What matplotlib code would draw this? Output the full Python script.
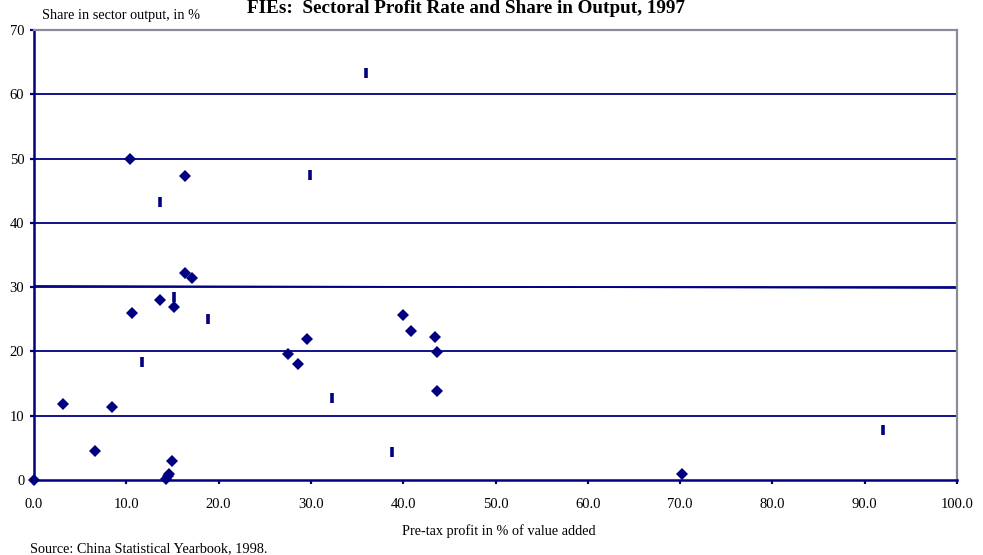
import numpy as np
import matplotlib
matplotlib.use("Agg")
import matplotlib.pyplot as plt
from matplotlib.ticker import FormatStrFormatter

plt.rcParams['font.family'] = ['Liberation Serif', 'DejaVu Serif']

NAVY = '#000080'

# sectors shown as diamonds: profit rate (%) vs share in output (%)
profit_a = [0.0, 3.1, 6.6, 8.5, 10.4, 10.6, 13.65, 14.3, 14.5, 14.65, 14.95,
            15.2, 16.4, 16.4, 17.15, 27.55, 28.6, 29.6, 40.0, 40.8, 43.45,
            43.65, 43.7, 70.2]
share_a = [0.0, 11.9, 4.5, 11.35, 50.0, 26.05, 27.95, 0.1, 0.6, 1.0, 3.0,
           26.9, 47.3, 32.2, 31.4, 19.6, 18.1, 21.9, 25.7, 23.2, 22.3,
           19.85, 13.9, 0.9]

# sectors shown as dashes
profit_b = [11.75, 13.7, 15.2, 18.9, 29.95, 32.3, 36.0, 38.8, 91.95]
share_b = [18.4, 43.3, 28.4, 25.0, 47.4, 12.8, 63.25, 4.4, 7.8]

# linear trend across all sectors
trend_intercept = 30.2
trend_slope = -0.0035

x_ticks = np.arange(0, 101, 10)
y_ticks = np.arange(0, 71, 10)

fig = plt.figure(figsize=(9.83, 5.55), dpi=100)
ax = fig.add_axes([34 / 983, 75 / 555, 923 / 983, 450 / 555])

for y in y_ticks[1:-1]:
    ax.axhline(y, color=NAVY, lw=1.3, zorder=1)

tx = np.array([0, 100])
ax.plot(tx, trend_intercept + trend_slope * tx, color=NAVY, lw=1.1, zorder=2)

ax.plot(profit_a, share_a, 'D', color=NAVY, ms=5.8, mew=0, zorder=3,
        clip_on=False)
ax.plot(profit_b, share_b, '|', color=NAVY, ms=7.5, mew=2.6, zorder=3,
        clip_on=False)

ax.set_xlim(0, 100)
ax.set_ylim(0, 70)
ax.set_xticks(x_ticks)
ax.set_yticks(y_ticks)
ax.xaxis.set_major_formatter(FormatStrFormatter('%.1f'))

for side in ('left', 'bottom'):
    ax.spines[side].set_color(NAVY)
    ax.spines[side].set_linewidth(1.8)
for side in ('top', 'right'):
    ax.spines[side].set_color('#8a8a9a')
    ax.spines[side].set_linewidth(1.6)

ax.tick_params(axis='both', colors=NAVY, width=1.6, length=3,
               labelcolor='black', labelsize=10.5)
ax.tick_params(axis='x', pad=10)
ax.tick_params(axis='y', pad=4)

fig.text(466 / 983, 1 - 13 / 555, 'FIEs:  Sectoral Profit Rate and Share in Output, 1997',
         ha='center', va='baseline', fontsize=13.8, fontweight='bold')
fig.text(42 / 983, 1 - 19 / 555, 'Share in sector output, in %',
         ha='left', va='baseline', fontsize=10.3)
fig.text(499 / 983, 1 - 535 / 555, 'Pre-tax profit in % of value added',
         ha='center', va='baseline', fontsize=10.3)
fig.text(30 / 983, 1 - 552 / 555, 'Source: China Statistical Yearbook, 1998.',
         ha='left', va='baseline', fontsize=10.3)

fig.savefig('out.png', dpi=100)
